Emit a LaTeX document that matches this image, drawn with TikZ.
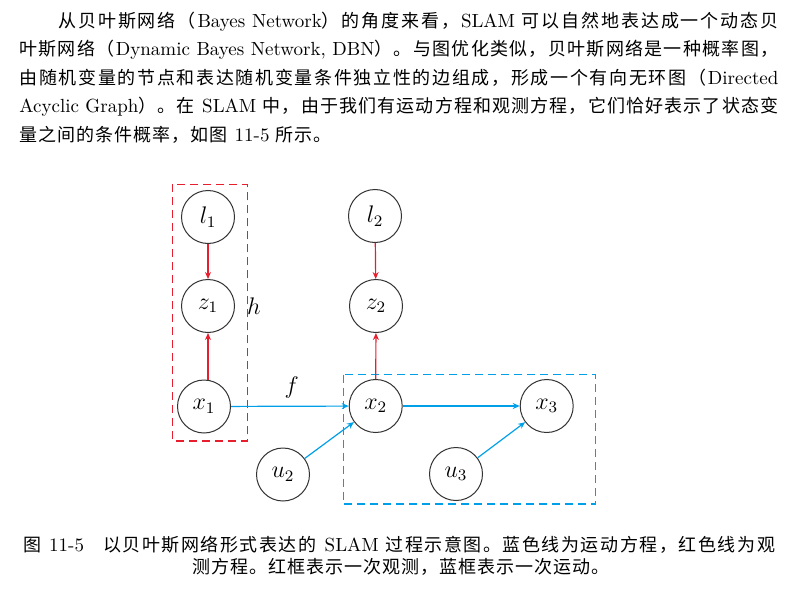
\documentclass[tikz,border=0pt]{standalone}
\usepackage{fontspec}
\usetikzlibrary{arrows.meta}
\newfontfamily\cjk{Noto Sans CJK SC}
\definecolor{obsred}{RGB}{230,30,45}
\definecolor{motblue}{RGB}{0,160,233}
% chinese run, with stretchable glue after every character
\let\zhend\relax
\def\zhloop#1{\ifx#1\zhend\else#1\hskip0.5pt plus 3pt minus 0.6pt\expandafter\zhloop\fi}
\newcommand\zh[1]{{\cjk\fontsize{9}{14}\selectfont\zhloop#1\zhend}}
\hbadness=10000
\hfuzz=30pt

\begin{document}
\begin{tikzpicture}[x=0.5pt, y=-0.5pt,
    var/.style={circle, draw=black!80, line width=0.5pt, minimum size=26.5pt, inner sep=0pt, font=\fontsize{12}{12}\selectfont},
    obs edge/.style={draw=obsred, line width=0.6pt, -{Stealth[length=3.5pt, width=3pt]}},
    mot edge/.style={draw=motblue, line width=0.6pt, -{Stealth[length=3.5pt, width=3pt]}},
    obs frame/.style={draw=obsred, line width=0.6pt, dash pattern=on 4pt off 2.5pt},
    mot frame/.style={draw=motblue, line width=0.6pt, dash pattern=on 4pt off 2.5pt},
    textline/.style={anchor=base west, inner sep=0pt, font=\fontsize{9.5}{14}\selectfont}
  ]
  \fill[white] (0,0) rectangle (801,588);
  \useasboundingbox (0,0) rectangle (801,588);

  % paragraph
  \node[textline] (p1) at (58,28) {\hbox to 360pt{\zh{从贝叶斯网络（}Bayes Network\zh{）的角度来看，}SLAM \zh{可以自然地表达成一个动态贝}\unskip}};
  \node[textline] (p2) at (19,56) {\hbox to 379.5pt{\zh{叶斯网络（}Dynamic Bayes Network, DBN\zh{）。与图优化类似，贝叶斯网络是一种概率图，}\unskip}};
  \node[textline] (p3) at (19,84.5) {\hbox to 379.5pt{\zh{由随机变量的节点和表达随机变量条件独立性的边组成，形成一个有向无环图（}Directed}};
  \node[textline] (p4) at (19,113) {\hbox to 379.5pt{Acyclic Graph\zh{）。在} SLAM \zh{中，由于我们有运动方程和观测方程，它们恰好表示了状态变}\unskip}};
  \node[textline] (p5) at (19,141) {\zh{量之间的条件概率，如图} 11-5 \zh{所示。}};

  % frames
  \draw[obs frame] (172.7,184.3) rectangle (247.3,441);
  \draw[mot frame] (343.3,374.5) rectangle (595.7,504);

  % variables
  \node[var] (l1) at (208,217) {$l_1$};
  \node[var] (z1) at (208,306) {$z_1$};
  \node[var] (x1) at (204,406.5) {$x_1$};
  \node[var] (l2) at (375,216) {$l_2$};
  \node[var] (z2) at (376,306) {$z_2$};
  \node[var] (x2) at (375.7,406) {$x_2$};
  \node[var] (x3) at (546.7,406) {$x_3$};
  \node[var] (u2) at (283,474.5) {$u_2$};
  \node[var] (u3) at (456,474) {$u_3$};

  \node[font=\fontsize{12}{12}\selectfont] (h) at (254,306.5) {$h$};
  \node[font=\fontsize{12}{12}\selectfont] (f) at (291.7,387.5) {$f$};

  % observation
  \draw[obs edge] (l1) -- (z1);
  \draw[obs edge] (x1.north -| z1) -- (z1.south);
  \draw[obs edge] (l2) -- (z2);
  \draw[obs edge] (x2) -- (z2);

  % motion
  \draw[mot edge] (x1) -- (x2);
  \draw[mot edge] (x2) -- (x3);
  \draw[mot edge] (u2) -- (x2);
  \draw[mot edge] (u3) -- (x3);

  % caption
  \node[textline, anchor=base] (cap1) at (399,551) {\hbox to 376pt{\zh{图} 11-5\quad\zh{以贝叶斯网络形式表达的} SLAM \zh{过程示意图。蓝色线为运动方程，红色线为观}\unskip}};
  \node[textline, anchor=base] (cap2) at (401,573) {\zh{测方程。红框表示一次观测，蓝框表示一次运动。}\unskip};
\end{tikzpicture}
\end{document}
